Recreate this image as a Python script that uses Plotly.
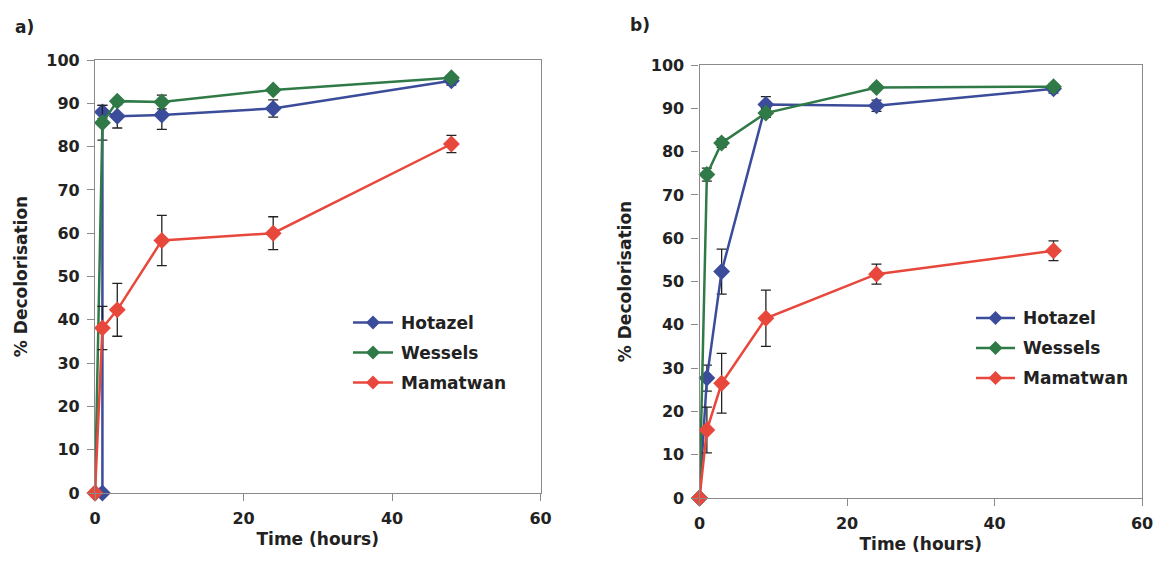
import plotly.graph_objects as go

# Panel a data
a_hot_t = [1, 1, 3, 9, 24, 48]
a_hot_y = [0, 88.0, 87.0, 87.3, 88.8, 95.2]
a_hot_e = [0, 1.5, 2.7, 3.3, 2.0, 1.0]
a_wes_t = [0, 1, 3, 9, 24, 48]
a_wes_y = [0, 85.5, 90.5, 90.3, 93.1, 95.9]
a_wes_e = [0, 4.0, 0.5, 1.6, 0.5, 0.5]
a_mam_t = [0, 1, 3, 9, 24, 48]
a_mam_y = [0, 38.1, 42.3, 58.3, 60.0, 80.6]
a_mam_e = [0, 5.0, 6.1, 5.8, 3.8, 2.0]

# Panel b data
b_hot_t = [0, 1, 3, 9, 24, 48]
b_hot_y = [0, 27.7, 52.3, 90.9, 90.6, 94.5]
b_hot_e = [0, 3.0, 5.2, 1.8, 1.3, 1.0]
b_wes_t = [0, 1, 3, 9, 24, 48]
b_wes_y = [0, 74.7, 82.0, 88.9, 94.8, 95.0]
b_wes_e = [0, 1.5, 1.0, 1.0, 0.5, 0.5]
b_mam_t = [0, 1, 3, 9, 24, 48]
b_mam_y = [0, 15.7, 26.5, 41.5, 51.7, 57.1]
b_mam_e = [0, 5.3, 6.9, 6.5, 2.3, 2.3]

names = ["Hotazel", "Wessels", "Mamatwan"]
colors = ["#3b4c9b", "#2f7a47", "#e8473c"]

FONT = "DejaVu Sans, sans-serif"
TXT = "#222222"

fig = go.Figure()

panels = [
    ("x", "y", [(a_hot_t, a_hot_y, a_hot_e), (a_wes_t, a_wes_y, a_wes_e), (a_mam_t, a_mam_y, a_mam_e)]),
    ("x2", "y2", [(b_hot_t, b_hot_y, b_hot_e), (b_wes_t, b_wes_y, b_wes_e), (b_mam_t, b_mam_y, b_mam_e)]),
]

for pi, (xa, ya, series) in enumerate(panels):
    for i, (t, y, e) in enumerate(series):
        fig.add_trace(go.Scatter(
            x=t, y=y, xaxis=xa, yaxis=ya,
            mode="lines+markers", name=names[i],
            line=dict(color=colors[i], width=2.5),
            marker=dict(symbol="diamond", size=13, color=colors[i]),
            error_y=dict(type="data", array=e, visible=True, color="#222222", thickness=1.3, width=5),
            cliponaxis=False,
            showlegend=False,
        ))

W, H = 1157, 561
leg = [
    dict(x0=353, x1=393, tx=399, ys=[322.5, 352.5, 382.5]),
    dict(x0=976, x1=1015, tx=1021, ys=[318, 348, 378]),
]
shapes = []
annotations = []
for L in leg:
    for i, yy in enumerate(L["ys"]):
        fy = 1 - yy / H
        shapes.append(dict(type="line", xref="paper", yref="paper",
                           x0=L["x0"] / W, x1=L["x1"] / W, y0=fy, y1=fy,
                           line=dict(color=colors[i], width=2.5)))
        cx = (L["x0"] + L["x1"]) / 2
        shapes.append(dict(type="path", xref="paper", yref="paper",
                           path="M {a},{b} L {c},{d} L {e},{f} L {g},{h} Z".format(
                               a=(cx - 7) / W, b=fy, c=cx / W, d=fy + 7 / H,
                               e=(cx + 7) / W, f=fy, g=cx / W, h=fy - 7 / H),
                           fillcolor=colors[i], line=dict(color=colors[i], width=0)))
        annotations.append(dict(xref="paper", yref="paper", x=L["tx"] / W, y=fy,
                                xanchor="left", yanchor="middle", showarrow=False,
                                text="<b>%s</b>" % names[i],
                                font=dict(family=FONT, size=17, color=TXT)))

annotations.append(dict(xref="paper", yref="paper", x=13 / W, y=1 - 27 / H, xanchor="left",
                        yanchor="middle", showarrow=False, text="<b>a)</b>",
                        font=dict(family=FONT, size=17, color=TXT)))
annotations.append(dict(xref="paper", yref="paper", x=628 / W, y=1 - 25 / H, xanchor="left",
                        yanchor="middle", showarrow=False, text="<b>b)</b>",
                        font=dict(family=FONT, size=17, color=TXT)))

axis_common = dict(
    showgrid=False, zeroline=False, showline=True, linecolor="#8a8a8a", linewidth=1.2,
    mirror=True, ticks="outside", ticklen=7, tickcolor="#8a8a8a", automargin=False,
    ticklabelstandoff=4,
    tickfont=dict(family=FONT, size=16, color=TXT, weight="bold"),
)

xtitle = dict(text="<b>Time (hours)</b>", font=dict(family=FONT, size=17, color=TXT), standoff=5)
ytitle = dict(text="<b>% Decolorisation</b>", font=dict(family=FONT, size=17, color=TXT), standoff=14)

fig.update_layout(
    width=W, height=H,
    margin=dict(l=0, r=0, t=0, b=0),
    paper_bgcolor="white", plot_bgcolor="white",
    showlegend=False,
    xaxis=dict(domain=[95 / W, 540.5 / W], range=[0, 60], dtick=20, anchor="y", title=xtitle, **axis_common),
    yaxis=dict(domain=[1 - 493 / H, 1 - 60 / H], range=[0, 100], dtick=10, anchor="x", title=ytitle, **axis_common),
    xaxis2=dict(domain=[699.5 / W, 1142 / W], range=[0, 60], dtick=20, anchor="y2", title=xtitle, **axis_common),
    yaxis2=dict(domain=[1 - 498 / H, 1 - 65 / H], range=[0, 100], dtick=10, anchor="x2", title=ytitle, **axis_common),
    shapes=shapes,
    annotations=annotations,
)

fig.write_html("out.html")
